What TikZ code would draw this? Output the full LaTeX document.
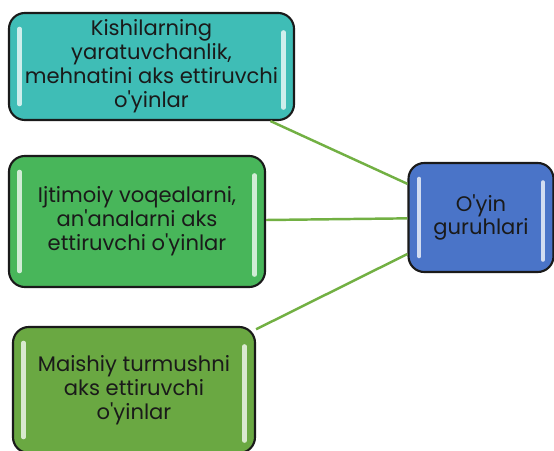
\documentclass[tikz,border=0pt]{standalone}
\usepackage{fontspec}
\setmainfont{Poppins}[Ligatures=TeXOff]
\usetikzlibrary{positioning}
\definecolor{BoxTeal}{HTML}{3FBDB6}
\definecolor{BoxGreen}{HTML}{48B65A}
\definecolor{BoxOlive}{HTML}{6AA842}
\definecolor{BoxBlue}{HTML}{4A74C8}
\definecolor{LinkGreen}{HTML}{72B043}
\definecolor{Ink}{HTML}{1A1A1A}
\tikzset{
  gamebox/.style={draw=Ink, line width=1.2pt, rounded corners=9pt,
                  align=center, text=Ink, font=\fontsize{12}{13.6}\selectfont,
                  inner sep=2pt,
                  path picture={
                    \draw[white, opacity=.75, line width=2.4pt, line cap=round]
                      ([xshift=6pt,yshift=-9pt]path picture bounding box.north west)
                      -- ([xshift=6pt,yshift=9pt]path picture bounding box.south west);
                    \draw[white, opacity=.75, line width=2.4pt, line cap=round]
                      ([xshift=-6pt,yshift=-11pt]path picture bounding box.north east)
                      -- ([xshift=-6pt,yshift=7pt]path picture bounding box.south east);
                  }},
  link/.style={draw=LinkGreen, line width=1.4pt},
}

\begin{document}
\begin{tikzpicture}
    \useasboundingbox (0,0) rectangle (11.08,9);

    % connectors first, boxes on top
    \path (3.03,7.67) coordinate (c1) (2.74,4.57) coordinate (c2)
          (2.68,1.20) coordinate (c3) (9.62,4.65) coordinate (c4);

    \node[gamebox, fill=BoxBlue, minimum width=2.9cm, minimum height=2.18cm]
      (groups) at (c4) {O'yin\\ guruhlari};

    \node[gamebox, fill=BoxTeal, minimum width=5.7cm, minimum height=2.14cm]
      (labour) at (c1) {Kishilarning\\ yaratuvchanlik,\\ mehnatini aks ettiruvchi\\ o'yinlar};
    \node[gamebox, fill=BoxGreen, minimum width=5.12cm, minimum height=2.62cm]
      (social) at (c2) {Ijtimoiy voqealarni,\\ an'analarni aks\\ ettiruvchi o'yinlar};
    \node[gamebox, fill=BoxOlive, minimum width=4.84cm, minimum height=2.52cm]
      (daily) at (c3) {Maishiy turmushni\\ aks ettiruvchi\\ o'yinlar};

    \draw[link] (labour) -- (groups);
    \draw[link] (social) -- (groups);
    \draw[link] (daily) -- (groups);
  \end{tikzpicture}
\end{document}
